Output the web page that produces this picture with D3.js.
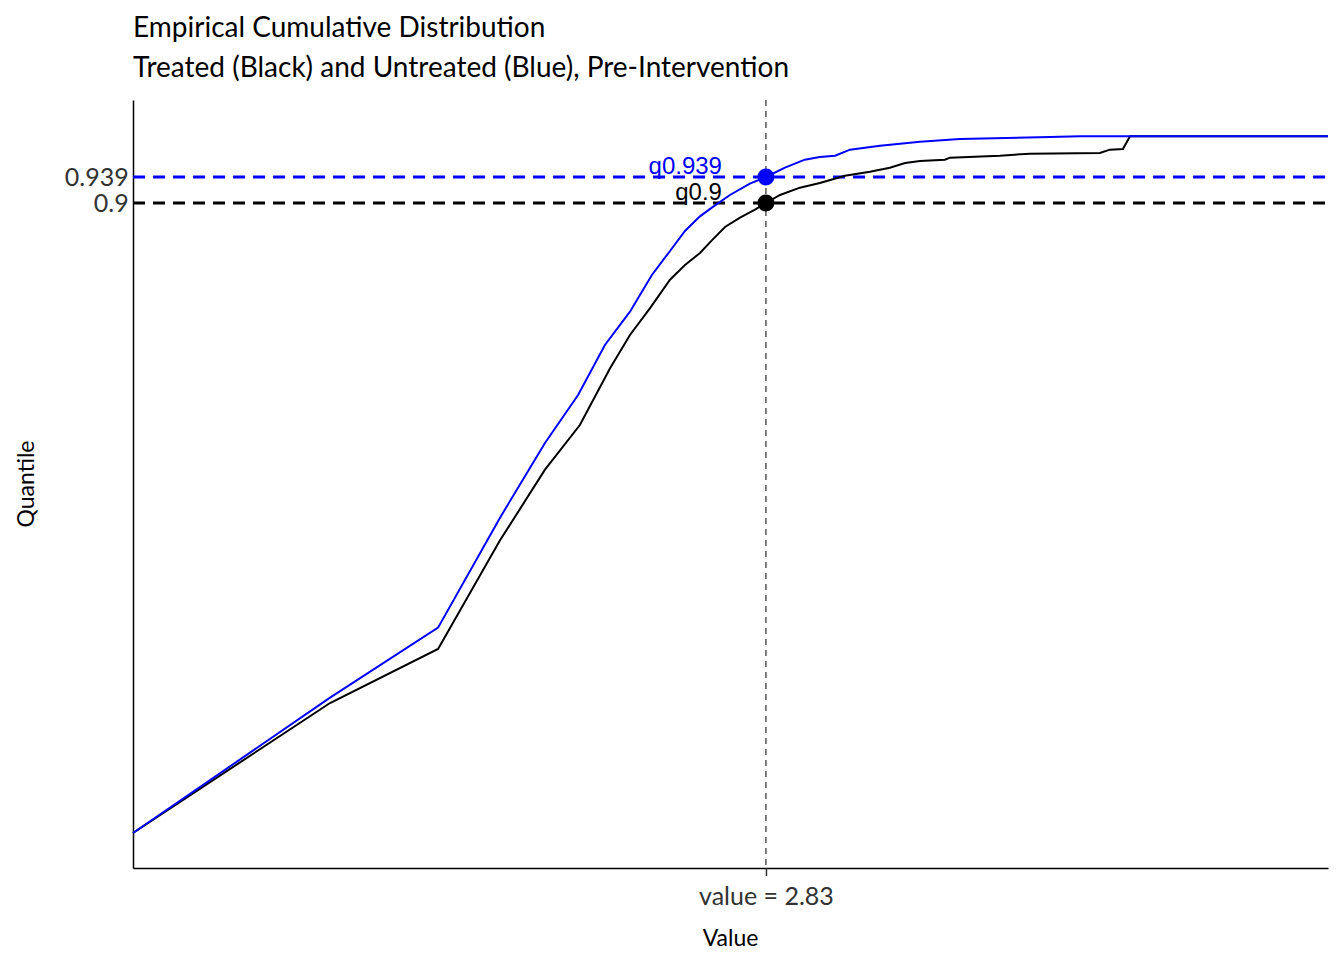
<!DOCTYPE html>
<html><head><meta charset="utf-8">
<script src="https://cdn.jsdelivr.net/npm/d3@7"></script>
<style>body{margin:0;background:#fff}</style>
</head><body><div id="chart"></div>
<script>
// treated (black) and untreated (blue) ECDF points
const treatedX = [0, 0.881, 1.364, 1.641, 1.842, 1.998, 2.133, 2.222, 2.311, 2.401, 2.468, 2.535, 2.588, 2.647, 2.714, 2.781, 2.83, 2.893, 2.982, 3.071, 3.183, 3.295, 3.384, 3.452, 3.519, 3.630, 3.653, 3.876, 4.010, 4.323, 4.368, 4.426, 4.458, 5.343];
const treatedY = [-0.045, 0.150, 0.231, 0.394, 0.500, 0.567, 0.652, 0.702, 0.742, 0.785, 0.807, 0.825, 0.844, 0.864, 0.878, 0.890, 0.9, 0.912, 0.923, 0.930, 0.941, 0.947, 0.953, 0.960, 0.963, 0.965, 0.968, 0.971, 0.974, 0.975, 0.980, 0.981, 1.0, 1.0];
const untreatedX = [0, 0.881, 1.364, 1.641, 1.842, 1.990, 2.110, 2.222, 2.320, 2.401, 2.468, 2.535, 2.588, 2.669, 2.758, 2.83, 2.915, 3.004, 3.071, 3.139, 3.206, 3.340, 3.519, 3.697, 4.100, 4.234, 5.343];
const untreatedY = [-0.045, 0.158, 0.263, 0.428, 0.540, 0.612, 0.687, 0.737, 0.792, 0.828, 0.858, 0.880, 0.893, 0.912, 0.929, 0.939, 0.953, 0.965, 0.969, 0.971, 0.980, 0.986, 0.992, 0.996, 0.999, 1.0, 1.0];
const yTicks = [0.9, 0.939];
const yTickLabels = ["0.9", "0.939"];
const xMark = 2.83;

const W = 1344, H = 960;
const m = {left: 133, right: 16, top: 100, bottom: 92};
const svg = d3.select('#chart').append('svg').attr('width', W).attr('height', H);

const x = d3.scaleLinear().domain([0, 5.343]).range([m.left, W - m.right]);
const y = d3.scaleLinear().domain([-0.0975, 1.0545]).range([H - m.bottom, m.top]);

const font = 'Lato, "Noto Sans", sans-serif';

// titles
svg.append('text').attr('x', 133).attr('y', 37).attr('font-family', font).attr('font-size', 28)
  .text('Empirical Cumulative Distribution');
svg.append('text').attr('x', 133).attr('y', 77).attr('font-family', font).attr('font-size', 28)
  .text('Treated (Black) and Untreated (Blue), Pre-Intervention');

// axes
const xAxis = svg.append('g').attr('transform', `translate(0,${H - m.bottom})`)
  .call(d3.axisBottom(x).tickValues([xMark]).tickFormat(d => 'value = ' + d).tickSize(8).tickSizeOuter(0));
const yAxis = svg.append('g').attr('transform', `translate(${m.left},0)`)
  .call(d3.axisLeft(y).tickValues(yTicks).tickFormat((d, i) => yTickLabels[i]).tickSize(0));
[xAxis, yAxis].forEach(a => {
  a.select('.domain').attr('stroke', '#000').attr('stroke-width', 1.5);
  a.selectAll('text').attr('font-family', font).attr('font-size', 25).attr('fill', '#333');
});
xAxis.selectAll('line').attr('stroke', '#333').attr('stroke-width', 1.5);
xAxis.selectAll('text').attr('dy', '1.05em');
yAxis.selectAll('text').attr('dx', '-0.05em');

svg.append('text').attr('x', (m.left + W - m.right) / 2).attr('y', 946).attr('text-anchor', 'middle')
  .attr('font-family', font).attr('font-size', 23).text('Value');
svg.append('text').attr('transform', `translate(34,${(m.top + H - m.bottom) / 2}) rotate(-90)`)
  .attr('text-anchor', 'middle').attr('font-family', font).attr('font-size', 23).text('Quantile');

// vertical dashed reference
svg.append('line').attr('x1', x(xMark)).attr('x2', x(xMark)).attr('y1', m.top).attr('y2', H - m.bottom)
  .attr('stroke', '#000').attr('stroke-width', 1).attr('stroke-dasharray', '6,5');

const line = d3.line().x(d => x(d[0])).y(d => y(d[1]));
const series = [
  {xs: treatedX, ys: treatedY, q: 0.9, color: '#000', label: 'q0.9'},
  {xs: untreatedX, ys: untreatedY, q: 0.939, color: '#0000ff', label: 'q0.939'}
];
series.forEach(s => {
  svg.append('line').attr('x1', m.left).attr('x2', W - m.right).attr('y1', y(s.q)).attr('y2', y(s.q))
    .attr('stroke', s.color).attr('stroke-width', 3).attr('stroke-dasharray', '12,8');
});
series.forEach(s => {
  svg.append('path').datum(d3.zip(s.xs, s.ys)).attr('d', line)
    .attr('fill', 'none').attr('stroke', s.color).attr('stroke-width', 2);
});
series.forEach(s => {
  svg.append('circle').attr('cx', x(xMark)).attr('cy', y(s.q)).attr('r', 8.5).attr('fill', s.color);
  svg.append('text').attr('x', x(xMark) - 44).attr('y', y(s.q) - 3).attr('text-anchor', 'end')
    .attr('font-family', '"Liberation Sans", Arial, sans-serif').attr('font-size', 24)
    .attr('fill', s.color).text(s.label);
});
</script></body></html>
